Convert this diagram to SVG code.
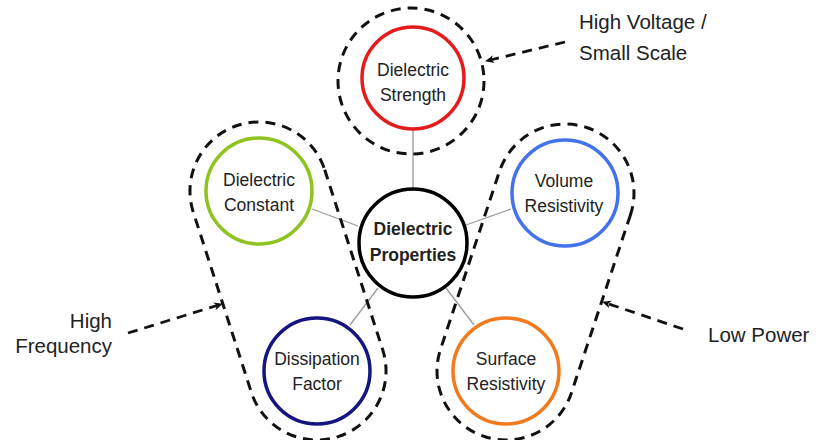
<svg xmlns="http://www.w3.org/2000/svg" width="816" height="440" viewBox="0 0 816 440">
<style>
.node{fill:#fff;stroke-width:3.5}
.lbl{font-family:"Liberation Sans",Arial,sans-serif;font-size:17.5px;fill:#222;text-anchor:middle}
.side{font-family:"Liberation Sans",Arial,sans-serif;font-size:20.5px;fill:#222}
.grp{fill:none;stroke:#111;stroke-width:3;stroke-dasharray:10 7}
.arr{fill:none;stroke:#111;stroke-width:2.8;stroke-dasharray:10 7}
.conn{stroke:#999;stroke-width:1.3}
</style>
<defs>
<marker id="ah" markerWidth="10" markerHeight="10" refX="8" refY="5" orient="auto" markerUnits="userSpaceOnUse">
<path d="M0,1 L9,5 L0,9 L2.5,5 Z" fill="#111"/>
</marker>
</defs>
<g id="connectors">
<line class="conn" x1="413" y1="128" x2="413" y2="188"/>
<line class="conn" x1="312" y1="209" x2="358" y2="226"/>
<line class="conn" x1="350" y1="325" x2="378" y2="288"/>
<line class="conn" x1="466" y1="225" x2="511" y2="209"/>
<line class="conn" x1="446" y1="288" x2="474" y2="325"/>
</g>
<g id="groups">
<circle id="group-top" class="grp" cx="411" cy="81" r="73"/>
<path id="group-left" class="grp" d="M324.7,169.8 L382.7,349.8 A69,69 0 0 1 251.3,392.2 L193.3,212.2 A69,69 0 0 1 324.7,169.8 Z"/>
<path id="group-right" class="grp" d="M630.5,214.7 L571.5,392.7 A69,69 0 0 1 440.5,349.3 L499.5,171.3 A69,69 0 0 1 630.5,214.7 Z"/>
</g>
<g id="arrows">
<line class="arr" x1="565" y1="42" x2="486" y2="61" marker-end="url(#ah)"/>
<line class="arr" x1="128" y1="333" x2="222" y2="304" marker-end="url(#ah)"/>
<line class="arr" x1="683" y1="329" x2="603" y2="302" marker-end="url(#ah)"/>
</g>
<g id="node-center">
<circle class="node" cx="413" cy="243" r="54" stroke="#000" stroke-width="4.5"/>
<text class="lbl" x="413" y="235" font-weight="bold" fill="#111">Dielectric</text>
<text class="lbl" x="413" y="261" font-weight="bold" fill="#111">Properties</text>
</g>
<g id="node-strength">
<circle class="node" cx="413" cy="78" r="51" stroke="#e51b1b"/>
<text class="lbl" x="413" y="76">Dielectric</text>
<text class="lbl" x="413" y="101">Strength</text>
</g>
<g id="node-constant">
<circle class="node" cx="259" cy="191" r="53" stroke="#8fc31f"/>
<text class="lbl" x="259" y="186">Dielectric</text>
<text class="lbl" x="259" y="211">Constant</text>
</g>
<g id="node-dissipation">
<circle class="node" cx="317" cy="371" r="53" stroke="#151580"/>
<text class="lbl" x="317" y="365">Dissipation</text>
<text class="lbl" x="317" y="390">Factor</text>
</g>
<g id="node-volume">
<circle class="node" cx="565" cy="193" r="53" stroke="#4472ea"/>
<text class="lbl" x="564" y="187">Volume</text>
<text class="lbl" x="564" y="212">Resistivity</text>
</g>
<g id="node-surface">
<circle class="node" cx="506" cy="371" r="53" stroke="#f27a1e"/>
<text class="lbl" x="506" y="365">Surface</text>
<text class="lbl" x="506" y="390">Resistivity</text>
</g>
<g id="labels">
<text class="side" x="579" y="29">High Voltage /</text>
<text class="side" x="579" y="60">Small Scale</text>
<text class="side" x="112" y="328" text-anchor="end">High</text>
<text class="side" x="112" y="353" text-anchor="end">Frequency</text>
<text class="side" x="708" y="342">Low Power</text>
</g>
</svg>
